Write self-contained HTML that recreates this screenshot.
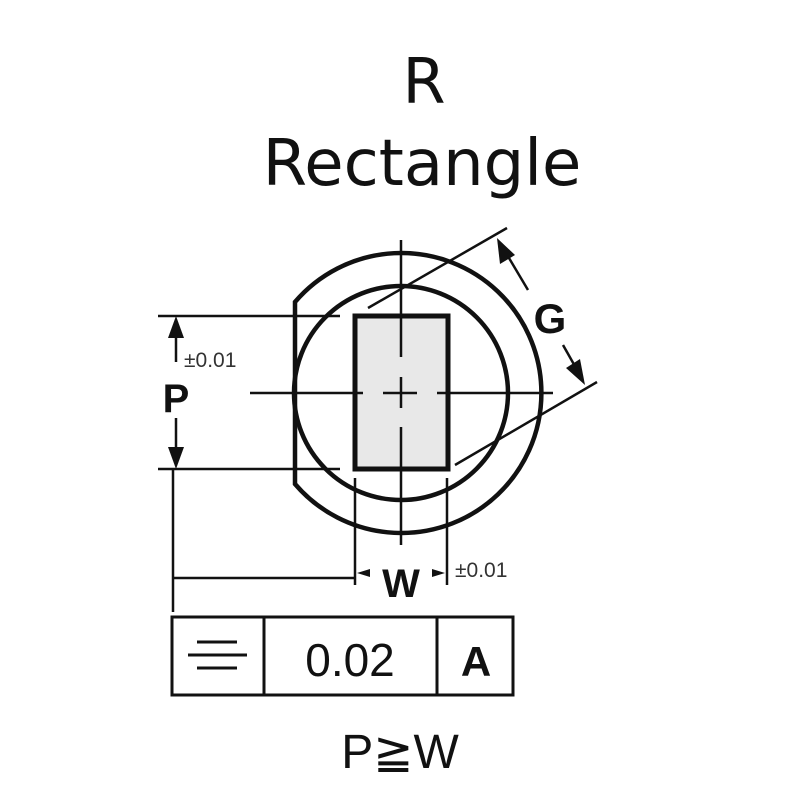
<!DOCTYPE html>
<html><head><style>
html,body{margin:0;padding:0;background:#fff;width:800px;height:800px;overflow:hidden}
</style></head><body>
<svg width="800" height="800" xmlns="http://www.w3.org/2000/svg">
<rect width="800" height="800" fill="#fff"/>
<text x="424" y="103" font-family="DejaVu Sans, sans-serif" font-size="62" text-anchor="middle" fill="#111">R</text>
<text x="422" y="185" font-family="DejaVu Sans, sans-serif" font-size="64" text-anchor="middle" fill="#111">Rectangle</text>

<g stroke="#111" fill="none">
  <path d="M295,302 A140,140 0 1 1 295,484 Z" stroke-width="4.5"/>
  <circle cx="401" cy="393" r="107" stroke-width="4.5"/>
  <rect x="355" y="316" width="93" height="153" fill="#e8e8e8" stroke-width="5"/>
  <g stroke-width="2.5">
    <line x1="401" y1="240" x2="401" y2="357"/>
    <line x1="401" y1="377" x2="401" y2="408"/>
    <line x1="401" y1="427" x2="401" y2="545"/>
    <line x1="250" y1="393" x2="363" y2="393"/>
    <line x1="383" y1="393" x2="417" y2="393"/>
    <line x1="437" y1="393" x2="553" y2="393"/>
  </g>
  <g stroke-width="2.5">
    <line x1="158" y1="316" x2="340" y2="316"/>
    <line x1="158" y1="469" x2="340" y2="469"/>
    <line x1="173" y1="469" x2="173" y2="612"/>
    <line x1="173" y1="578" x2="354" y2="578"/>
    <line x1="355" y1="478" x2="355" y2="585"/>
    <line x1="447" y1="478" x2="447" y2="585"/>
    <line x1="176" y1="330" x2="176" y2="362"/>
    <line x1="176" y1="418" x2="176" y2="455"/>
    <line x1="368" y1="308" x2="507" y2="228"/>
    <line x1="455" y1="465" x2="597" y2="382"/>
    <line x1="506" y1="253" x2="528" y2="290"/>
    <line x1="563" y1="345" x2="576" y2="368"/>
  </g>
</g>
<g fill="#111">
  <polygon points="176,316 168,338 184,338"/>
  <polygon points="176,469 168,447 184,447"/>
  <polygon points="497,238 500,264 515,255"/>
  <polygon points="585,385 566,368 580,359"/>
  <polygon points="357,573 370,569 370,577"/>
  <polygon points="445,573 432,569 432,577"/>
</g>
<text x="184" y="367" font-family="Liberation Sans, sans-serif" font-size="21" fill="#333">±0.01</text>
<text x="176" y="412" font-family="Liberation Sans, sans-serif" font-size="40" font-weight="bold" text-anchor="middle" fill="#111">P</text>
<text x="401" y="597" font-family="Liberation Sans, sans-serif" font-size="40" font-weight="bold" text-anchor="middle" fill="#111">W</text>
<text x="455" y="577" font-family="Liberation Sans, sans-serif" font-size="21" fill="#333">±0.01</text>
<text x="550" y="333" font-family="Liberation Sans, sans-serif" font-size="42" font-weight="bold" text-anchor="middle" fill="#111">G</text>

<g stroke="#111" stroke-width="3" fill="none">
  <rect x="172" y="617" width="341" height="78"/>
  <line x1="264" y1="617" x2="264" y2="695"/>
  <line x1="437" y1="617" x2="437" y2="695"/>
</g>
<g stroke="#111" stroke-width="3">
  <line x1="197" y1="642" x2="237" y2="642"/>
  <line x1="188" y1="655" x2="247" y2="655"/>
  <line x1="197" y1="668" x2="237" y2="668"/>
</g>
<text x="350" y="676" font-family="Liberation Sans, sans-serif" font-size="46" text-anchor="middle" fill="#111">0.02</text>
<text x="476" y="676" font-family="Liberation Sans, sans-serif" font-size="42" font-weight="bold" text-anchor="middle" fill="#111">A</text>
<text x="400" y="768" font-family="Liberation Sans, 'DejaVu Sans', sans-serif" font-size="48" text-anchor="middle" fill="#111">P≧W</text>
</svg>
</body></html>
